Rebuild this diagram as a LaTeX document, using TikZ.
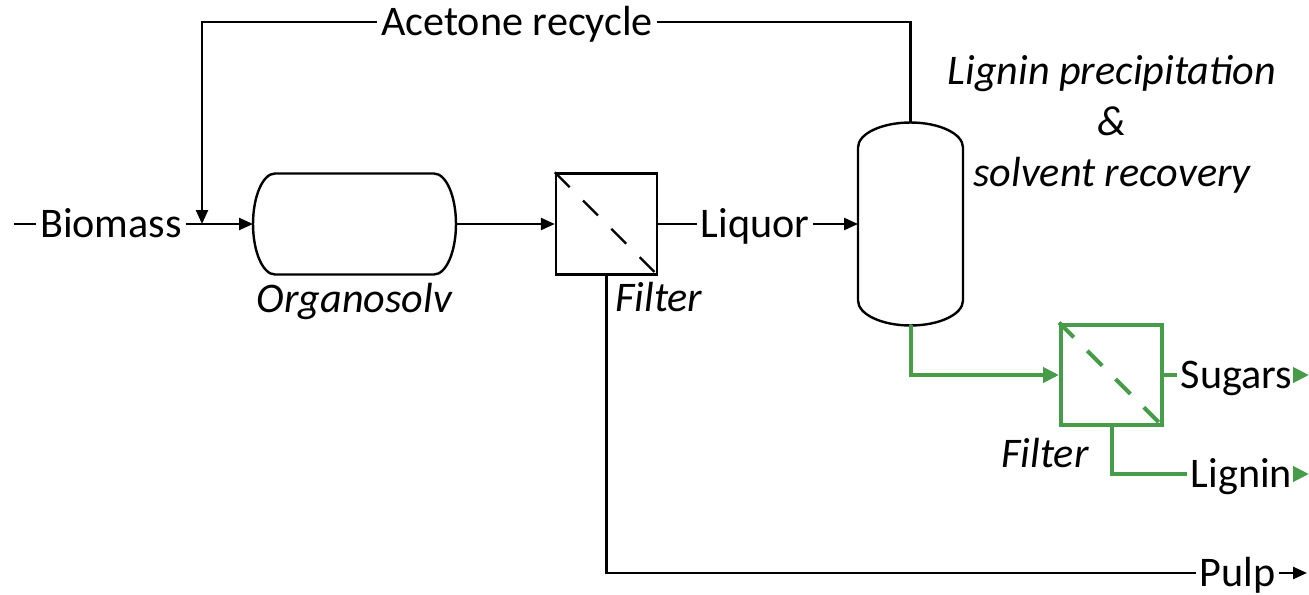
\documentclass[tikz,border=0pt]{standalone}
\usepackage{fontspec}
\setmainfont{Carlito}
\usetikzlibrary{arrows.meta,positioning,calc}
\definecolor{moss}{RGB}{70,156,72}

\begin{document}
\begin{tikzpicture}[x=0.02cm,y=-0.02cm,line width=0.048cm,
    every node/.style={font=\fontsize{24}{29}\selectfont},
    stream/.style={inner sep=1.5pt,text height=15.5pt,text depth=0pt},
    unitlab/.style={font=\fontsize{24}{29}\selectfont\itshape,inner sep=1pt},
    shell/.style={outer sep=0pt,inner sep=0pt},
    filt/.style={draw,minimum size=2.02cm,inner sep=0pt},
    flow/.style={-{Triangle[length=0.28cm,width=0.24cm]}},
    gline/.style={moss,line width=0.08cm},
    gflow/.style={gline,-{Triangle[length=0.32cm,width=0.3cm]}},
    membrane/.style={dash pattern=on 0.42cm off 0.38cm}]
  \useasboundingbox (0,0) rectangle (1309,595);
  \node[shell,minimum width=4.06cm,minimum height=2.02cm] (org) at (354.5,224) {};
  \draw ([xshift=0.44cm]org.north west) -- ([xshift=-0.44cm]org.north east)
    arc[start angle=90,end angle=-90,x radius=0.44cm,y radius=1.01cm]
    -- ([xshift=0.44cm]org.south west)
    arc[start angle=270,end angle=90,x radius=0.44cm,y radius=1.01cm] -- cycle;
  \node[shell,minimum width=2.1cm,minimum height=4.06cm] (prec) at (910.5,224) {};
  \draw ([yshift=-0.5cm]prec.north west)
    arc[start angle=180,end angle=0,x radius=1.05cm,y radius=0.5cm]
    -- ([yshift=0.5cm]prec.south east)
    arc[start angle=0,end angle=-180,x radius=1.05cm,y radius=0.5cm] -- cycle;
  \node[filt] (filA) at (606.5,224) {};
  \draw[membrane] (filA.north west) -- (filA.south east);
  \node[filt,draw=moss,line width=0.08cm] (filB) at (1111.5,375) {};
  \draw[gline,membrane] (filB.north west) -- (filB.south east);

  \coordinate (feed) at (14,224);
  \node[stream] (bio) at (111,224) {Biomass};
  \coordinate (mix) at (202,224);
  \node[stream] (liq) at (755,224) {Liquor};
  \node[stream] (rec) at (517,22) {Acetone recycle};
  \node[stream,anchor=west] (pulp) at (1196,573) {Pulp};
  \coordinate (pulpout) at (1307,573);
  \node[stream,anchor=west] (sug) at (1177,375) {Sugars};
  \coordinate (sugout) at (1309,375);
  \node[stream,anchor=west] (lig) at (1187,474) {Lignin};
  \coordinate (ligout) at (1309,474);

  \node[unitlab,below=0.12cm of org] {Organosolv};
  \node[unitlab,anchor=north west] at ([xshift=0.12cm,yshift=-0.08cm]filA.south) {Filter};
  \node[unitlab,anchor=north east] at ([xshift=-0.4cm,yshift=-0.16cm]filB.south) {Filter};
  \node[unitlab,align=center] (note) at (1112,124) {Lignin precipitation\\\&\\solvent recovery};

  \draw (feed) -- (bio);
  \draw[flow] (bio) -- (org);
  \draw[flow] (org) -- (filA);
  \draw (filA) -- (liq);
  \draw[flow] (liq) -- (prec);
  \draw (prec.north) |- (rec);
  \draw[flow] (rec) -| (mix);
  \draw (filA.south) |- (pulp);
  \draw[flow] (pulp) -- (pulpout);
  \draw[gflow] (prec.south) |- (filB);
  \draw[gline] (filB) -- (sug);
  \draw[gflow] (sug) -- (sugout);
  \draw[gline] (filB.south) |- (lig);
  \draw[gflow] (lig) -- (ligout);
\end{tikzpicture}
\end{document}
